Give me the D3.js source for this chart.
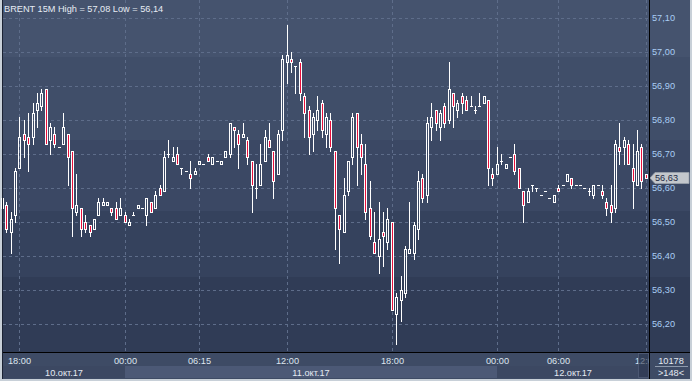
<!DOCTYPE html>
<html><head><meta charset="utf-8">
<script src="https://cdn.jsdelivr.net/npm/d3@7/dist/d3.min.js"></script>
<style>html,body{margin:0;padding:0;background:#c8d0d8;overflow:hidden}svg{display:block}</style>
</head><body><svg id="c" width="692" height="381"></svg>
<script>
const title = "BRENT 15M High = 57,08 Low = 56,14";
const opens = [56.54,56.55,56.47,56.52,56.66,56.76,56.75,56.75,56.83,56.84,56.89,56.74,56.76,56.72,56.73,56.76,56.71,56.53,56.54,56.50,
56.49,56.48,56.52,56.55,56.55,56.54,56.54,56.52,56.52,56.49,56.52,56.54,56.54,56.52,56.56,56.54,56.60,56.59,56.70,56.68,
56.70,56.66,56.65,56.64,56.64,56.67,56.67,56.69,56.67,56.68,56.67,56.69,56.70,56.78,56.76,56.75,56.74,56.68,56.60,56.61,
56.68,56.74,56.71,56.64,56.77,56.97,56.98,56.96,56.97,56.87,56.83,56.76,56.80,56.85,56.76,56.80,56.71,56.52,56.47,56.59,
56.69,56.82,56.73,56.67,56.54,56.44,56.40,56.47,56.44,56.50,56.23,56.27,56.29,56.41,56.41,56.48,56.63,56.58,56.78,56.83,
56.78,56.84,56.80,56.88,56.83,56.87,56.86,56.84,56.83,56.84,56.85,56.86,56.64,56.64,56.68,56.66,56.69,56.70,56.66,56.59,
56.56,56.61,56.60,56.58,56.59,56.57,56.56,56.60,56.61,56.62,56.63,56.61,56.61,56.60,56.59,56.58,56.61,56.59,56.56,56.55,
56.54,56.72,56.72,56.73,56.66,56.61,56.72,56.64];
const highs = [56.58,56.56,56.53,56.66,56.81,56.80,56.82,56.85,56.88,56.89,56.89,56.79,56.78,56.72,56.82,56.76,56.71,56.64,56.54,56.52,
56.49,56.51,56.57,56.57,56.56,56.54,56.56,56.57,56.53,56.51,56.53,56.55,56.54,56.57,56.56,56.59,56.61,56.71,56.74,56.72,
56.72,56.66,56.65,56.68,56.66,56.68,56.67,56.70,56.69,56.68,56.68,56.71,56.79,56.78,56.77,56.79,56.75,56.68,56.67,56.73,
56.77,56.79,56.71,56.77,56.99,57.08,57.00,56.96,56.98,56.88,56.84,56.82,56.87,56.86,56.82,56.82,56.71,56.52,56.63,56.68,
56.82,56.82,56.76,56.73,56.62,56.53,56.56,56.53,56.54,56.50,56.29,56.34,56.43,56.56,56.50,56.65,56.64,56.81,56.85,56.83,
56.83,56.85,56.97,56.88,56.86,56.88,56.87,56.87,56.84,56.88,56.87,56.86,56.66,56.72,56.70,56.67,56.69,56.73,56.66,56.59,
56.60,56.61,56.60,56.58,56.59,56.57,56.58,56.61,56.61,56.64,56.63,56.61,56.61,56.60,56.60,56.61,56.61,56.61,56.57,56.61,
56.74,56.79,56.75,56.74,56.73,56.77,56.73,56.64];
const lows = [56.53,56.47,56.41,56.50,56.66,56.69,56.65,56.73,56.78,56.83,56.73,56.70,56.72,56.72,56.73,56.61,56.46,56.52,56.46,56.47,
56.46,56.48,56.52,56.55,56.55,56.52,56.51,56.52,56.50,56.49,56.52,56.54,56.54,56.49,56.53,56.54,56.58,56.59,56.69,56.68,
56.67,56.64,56.65,56.60,56.64,56.67,56.67,56.68,56.67,56.68,56.67,56.69,56.69,56.72,56.66,56.75,56.67,56.53,56.57,56.61,
56.68,56.72,56.57,56.64,56.74,56.91,56.94,56.88,56.86,56.75,56.70,56.71,56.77,56.75,56.72,56.71,56.42,56.38,56.47,56.58,
56.67,56.61,56.64,56.51,56.45,56.41,56.35,56.37,56.42,56.24,56.14,56.21,56.28,56.41,56.39,56.45,56.56,56.56,56.74,56.77,
56.74,56.78,56.79,56.78,56.81,56.82,56.83,56.84,56.82,56.84,56.85,56.61,56.61,56.64,56.67,56.66,56.69,56.64,56.60,56.50,
56.56,56.59,56.59,56.58,56.59,56.57,56.56,56.59,56.61,56.62,56.60,56.61,56.61,56.60,56.58,56.57,56.61,56.57,56.52,56.50,
56.53,56.67,56.67,56.67,56.54,56.61,56.60,56.63];
const closes = [56.57,56.48,56.51,56.65,56.75,56.74,56.73,56.82,56.85,56.88,56.73,56.78,56.73,56.72,56.78,56.69,56.54,56.55,56.48,56.48,
56.47,56.51,56.56,56.56,56.56,56.53,56.51,56.54,56.50,56.50,56.52,56.55,56.54,56.57,56.53,56.58,56.58,56.69,56.70,56.69,
56.67,56.66,56.65,56.63,56.65,56.68,56.67,56.68,56.69,56.68,56.68,56.71,56.79,56.77,56.73,56.76,56.69,56.61,56.60,56.67,
56.75,56.72,56.62,56.76,56.98,56.99,56.97,56.96,56.88,56.82,56.75,56.81,56.83,56.77,56.81,56.72,56.54,56.48,56.58,56.68,
56.81,56.72,56.69,56.53,56.46,56.41,56.45,56.46,56.51,56.24,56.28,56.30,56.42,56.42,56.49,56.62,56.57,56.79,56.81,56.79,
56.82,56.79,56.89,56.84,56.85,56.85,56.83,56.84,56.83,56.84,56.87,56.66,56.63,56.67,56.68,56.67,56.69,56.65,56.60,56.55,
56.59,56.61,56.60,56.58,56.59,56.57,56.58,56.59,56.61,56.64,56.61,56.61,56.61,56.60,56.59,56.61,56.61,56.58,56.54,56.53,
56.73,56.71,56.74,56.67,56.62,56.71,56.62,56.63];
const priceTicks = [57.10,57.00,56.90,56.80,56.70,56.60,56.50,56.40,56.30,56.20];
const timeTickIndex = [4,28,45,65,89,113,127,147];
const timeTickLabels = ["18:00","00:00","06:15","12:00","18:00","00:00","06:00","12:00"];
const dayStartIndex = [0,28,113];
const dayLabels = ["10.окт.17","11.окт.17","12.окт.17"];
const lastPrice = 56.63;
const barsTotal = "10178";
const barsVisible = ">148<";

const svg = d3.select("#c");
const W = 692, H = 381;
const plotL = 3, plotR = 649, plotB = 352;
const font = "'Liberation Sans', Arial, sans-serif";
const fs = 9.2;

const x = d3.scaleLinear().domain([0, opens.length - 1]).range([1.92, 645.78]);
const y = d3.scaleLinear().domain([56.20, 57.10]).range([324, 18]);
const fmt = v => d3.format(".2f")(v).replace(".", ",");

svg.append("rect").attr("x",0).attr("y",0).attr("width",W).attr("height",H).attr("fill","#c8d0d8");
const bandEdges = [0,57,140,211,277,352];
const bandColors = ["#45536e","#404e69","#3b4864","#35425d","#303c56"];
bandColors.forEach((c,i)=>{
  svg.append("rect").attr("x",2).attr("y",bandEdges[i]).attr("width",688).attr("height",bandEdges[i+1]-bandEdges[i]).attr("fill",c);
});
svg.append("rect").attr("x",2).attr("y",353).attr("width",688).attr("height",26).attr("fill","#3e4b65");
dayStartIndex.forEach((s,i)=>{
  const x0 = i===0 ? plotL : Math.round(x(s));
  const x1 = i===dayStartIndex.length-1 ? plotR : Math.round(x(dayStartIndex[i+1]));
  svg.append("rect").attr("x",x0).attr("y",366).attr("width",x1-x0).attr("height",12)
    .attr("fill", i%2===1 ? "#4c5976" : "#3c4862");
  svg.append("text").attr("x",(x0+x1)/2).attr("y",375.5).attr("text-anchor","middle")
    .attr("font-family",font).attr("font-size",fs).attr("fill","#e4eaf2").text(dayLabels[i]);
});

const g = svg.append("g").attr("shape-rendering","crispEdges");
priceTicks.forEach(p=>{
  const yy = Math.round(y(p))+0.5;
  g.append("line").attr("x1",plotL).attr("x2",plotR).attr("y1",yy).attr("y2",yy)
    .attr("stroke","#5e6d8a").attr("stroke-dasharray","3,3");
});
timeTickIndex.forEach(k=>{
  const xx = Math.round(x(k))+0.5;
  g.append("line").attr("x1",xx).attr("x2",xx).attr("y1",0).attr("y2",plotB)
    .attr("stroke","#5e6d8a").attr("stroke-dasharray","3,3");
});

const red = "#e8103c", white = "#ffffff";
function px(x0,y0,w,h,c){ if(w>0&&h>0) g.append("rect").attr("x",x0).attr("y",y0).attr("width",w).attr("height",h).attr("fill",c); }
for (let k=0;k<opens.length;k++){
  const col = Math.round(x(k));
  const yo = Math.round(y(opens[k])), yc = Math.round(y(closes[k]));
  const yh = Math.round(y(highs[k])), yl = Math.round(y(lows[k]));
  const top = Math.min(yo,yc), bot = Math.max(yo,yc);
  if (bot - top < 1) {
    px(col, yh, 1, yl-yh+1, white);
    px(col-1, top, 3, 1, white);
  } else {
    px(col, yh, 1, top-yh, white);
    px(col, bot+1, 1, yl-bot, white);
    px(col-1, top, 1, bot-top+1, white);
    px(col+1, top, 1, bot-top+1, white);
    px(col, top, 1, 1, white);
    px(col, bot, 1, 1, white);
    if (closes[k] < opens[k]) px(col, top+1, 1, bot-top-1, red);
  }
}

g.append("line").attr("x1",plotR+0.5).attr("x2",plotR+0.5).attr("y1",0).attr("y2",379).attr("stroke","#000");
g.append("line").attr("x1",2).attr("x2",690).attr("y1",plotB+0.5).attr("y2",plotB+0.5).attr("stroke","#000");
g.append("line").attr("x1",2.5).attr("x2",2.5).attr("y1",0).attr("y2",379).attr("stroke","#1b2233");

priceTicks.forEach(p=>{
  svg.append("text").attr("x",652).attr("y",y(p)+3.4).attr("font-family",font).attr("font-size",fs)
    .attr("fill","#a9cdf4").text(fmt(p));
});
const yl0 = Math.round(y(lastPrice));
svg.append("path").attr("d",`M650,${yl0} L655,${yl0-5.5} L689,${yl0-5.5} L689,${yl0+5.5} L655,${yl0+5.5} Z`)
  .attr("fill","#c3c7cc").attr("stroke","#9aa2ac").attr("stroke-width",0.8);
svg.append("text").attr("x",655).attr("y",yl0+3.4).attr("font-family",font).attr("font-size",fs)
  .attr("fill","#1e2b45").text(fmt(lastPrice));

svg.append("clipPath").attr("id","tc").append("rect").attr("x",2).attr("y",353).attr("width",plotR-2).attr("height",14);
const tl = svg.append("g").attr("clip-path","url(#tc)");
timeTickIndex.forEach((k,i)=>{
  tl.append("text").attr("x",Math.round(x(k))+0.5).attr("y",364).attr("text-anchor","middle")
    .attr("font-family",font).attr("font-size",fs).attr("fill","#dfe6ef").text(timeTickLabels[i]);
});
svg.append("rect").attr("x",638.5).attr("y",353.5).attr("width",10).attr("height",24)
  .attr("fill","#2c3750").attr("fill-opacity",0.6).attr("stroke","#5a6680").attr("stroke-width",0.6);

svg.append("text").attr("x",671).attr("y",363.5).attr("text-anchor","middle").attr("font-family",font)
  .attr("font-size",fs).attr("fill","#e4eaf2").text(barsTotal);
g.append("line").attr("x1",655).attr("x2",688).attr("y1",366.5).attr("y2",366.5).attr("stroke","#8e9aac");
svg.append("text").attr("x",671).attr("y",376).attr("text-anchor","middle").attr("font-family",font)
  .attr("font-size",fs).attr("fill","#e4eaf2").text(barsVisible);

svg.append("text").attr("x",4).attr("y",11.5).attr("font-family",font).attr("font-size",fs)
  .attr("fill","#e6ecf4").text(title);
</script></body></html>
